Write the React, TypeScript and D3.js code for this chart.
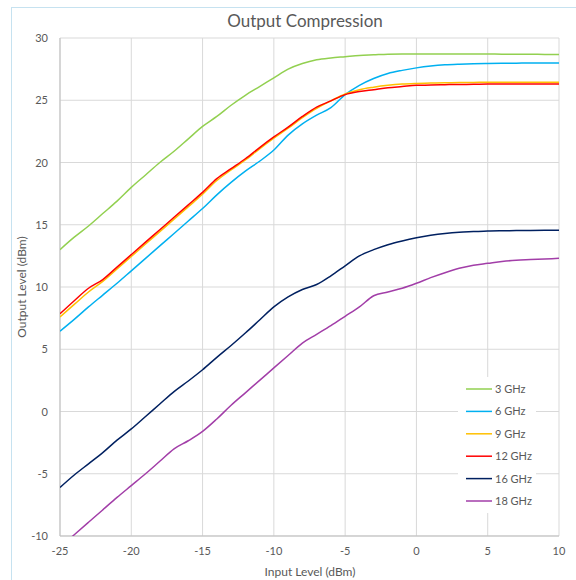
import { line, scaleLinear, curveMonotoneX } from "d3";

const inputLevels = [
  -25, -24, -23, -22, -21, -20, -19, -18, -17, -16, -15, -14, -13, -12, -11, -10, -9, -8, -7, -6, -5, -4, -3, -2, -1, 0,
  1, 2, 3, 4, 5, 6, 7, 8, 9, 10
];

const ghz3 = [
  13.0, 14.0, 14.9, 15.9, 16.9, 18.0, 19.0, 20.0, 20.9, 21.9, 22.9, 23.7, 24.6, 25.4, 26.1, 26.8, 27.5, 27.95, 28.25,
  28.4, 28.5, 28.6, 28.65, 28.7, 28.72, 28.72, 28.72, 28.72, 28.72, 28.72, 28.72, 28.7, 28.7, 28.7, 28.68, 28.68
];
const ghz6 = [
  6.45, 7.4, 8.4, 9.35, 10.3, 11.3, 12.3, 13.3, 14.3, 15.3, 16.3, 17.4, 18.4, 19.3, 20.1, 21.0, 22.2, 23.1, 23.8, 24.4,
  25.45, 26.2, 26.75, 27.15, 27.4, 27.6, 27.75, 27.85, 27.9, 27.93, 27.95, 27.97, 27.98, 28.0, 28.0, 28.0
];
const ghz9 = [
  7.6, 8.6, 9.6, 10.45, 11.45, 12.45, 13.45, 14.45, 15.45, 16.45, 17.45, 18.55, 19.4, 20.2, 21.1, 21.95, 22.75, 23.6,
  24.35, 24.95, 25.5, 25.85, 26.05, 26.2, 26.3, 26.35, 26.38, 26.4, 26.42, 26.43, 26.45, 26.45, 26.45, 26.45, 26.45,
  26.45
];
const ghz12 = [
  7.85, 8.9, 9.9, 10.6, 11.6, 12.6, 13.6, 14.6, 15.6, 16.6, 17.6, 18.7, 19.5, 20.3, 21.2, 22.05, 22.85, 23.7, 24.45,
  24.95, 25.45, 25.7, 25.85, 26.0, 26.1, 26.2, 26.22, 26.25, 26.27, 26.28, 26.3, 26.3, 26.3, 26.3, 26.3, 26.3
];
const ghz16 = [
  -6.1, -5.1, -4.2, -3.3, -2.3, -1.4, -0.4, 0.6, 1.6, 2.45, 3.35, 4.35, 5.3, 6.3, 7.35, 8.4, 9.2, 9.8, 10.2, 10.9, 11.7,
  12.5, 13.0, 13.4, 13.7, 13.95, 14.15, 14.3, 14.4, 14.45, 14.5, 14.52, 14.53, 14.54, 14.55, 14.55
];
const ghz18 = [
  -10.9, -9.9, -8.9, -7.9, -6.9, -5.95, -5.0, -4.0, -3.0, -2.35, -1.6, -0.6, 0.5, 1.5, 2.5, 3.5, 4.5, 5.5, 6.2, 6.9,
  7.65, 8.4, 9.3, 9.6, 9.9, 10.3, 10.75, 11.15, 11.5, 11.75, 11.9, 12.05, 12.15, 12.2, 12.25, 12.3
];

const seriesNames = ["3 GHz", "6 GHz", "9 GHz", "12 GHz", "16 GHz", "18 GHz"];
const seriesValues = [ghz3, ghz6, ghz9, ghz12, ghz16, ghz18];
const seriesColors = ["#92d050", "#00b0f0", "#ffc000", "#ff0000", "#002060", "#a23ea8"];

const xTicks = [-25, -20, -15, -10, -5, 0, 5, 10];
const yTicks = [-10, -5, 0, 5, 10, 15, 20, 25, 30];

const WIDTH = 576;
const HEIGHT = 580;
const PLOT_LEFT = 60;
const PLOT_RIGHT = 559;
const PLOT_TOP = 38;
const PLOT_BOTTOM = 536;
const FONT = "Lato, 'Open Sans', sans-serif";
const TEXT_COLOR = "#595959";

export default function App() {
  const xScale = scaleLinear().domain([-25, 10]).range([PLOT_LEFT, PLOT_RIGHT]);
  const yScale = scaleLinear().domain([-10, 30]).range([PLOT_BOTTOM, PLOT_TOP]);
  const makePath = line<number>()
    .x((_v: number, i: number) => xScale(inputLevels[i]))
    .y((v: number) => yScale(v))
    .curve(curveMonotoneX);

  const legendX = 466;
  const legendY = 389;
  const legendStep = 22.4;

  return (
    <svg
      width={WIDTH}
      height={HEIGHT}
      style={{ position: "absolute", left: 0, top: 0, background: "#fff" }}
      fontFamily={FONT}
    >
      <defs>
        <clipPath id="plot-clip">
          <rect x={PLOT_LEFT} y={PLOT_TOP} width={PLOT_RIGHT - PLOT_LEFT} height={PLOT_BOTTOM - PLOT_TOP} />
        </clipPath>
      </defs>
      <rect x={11.5} y={7.5} width={WIDTH} height={HEIGHT} fill="#fff" stroke="#c6e2f0" />
      <text x={305} y={27} textAnchor="middle" fontSize={17} fill={TEXT_COLOR}>
        Output Compression
      </text>

      {yTicks.map((t) => (
        <g key={`y${t}`}>
          <line x1={PLOT_LEFT} x2={PLOT_RIGHT} y1={yScale(t)} y2={yScale(t)} stroke="#d9d9d9" />
          <text x={48} y={yScale(t) + 4} textAnchor="end" fontSize={11} fill={TEXT_COLOR}>
            {t}
          </text>
        </g>
      ))}
      {xTicks.map((t) => (
        <g key={`x${t}`}>
          <line x1={xScale(t)} x2={xScale(t)} y1={PLOT_TOP} y2={PLOT_BOTTOM} stroke="#d9d9d9" />
          <text x={xScale(t)} y={555} textAnchor="middle" fontSize={11} fill={TEXT_COLOR}>
            {t}
          </text>
        </g>
      ))}
      <line x1={PLOT_LEFT} x2={PLOT_RIGHT} y1={PLOT_BOTTOM} y2={PLOT_BOTTOM} stroke="#bfbfbf" />
      <line x1={PLOT_LEFT} x2={PLOT_LEFT} y1={PLOT_TOP} y2={PLOT_BOTTOM} stroke="#bfbfbf" />

      <g clipPath="url(#plot-clip)">
        {seriesValues.map((values, i) => (
          <path key={seriesNames[i]} d={makePath(values) ?? ""} fill="none" stroke={seriesColors[i]} strokeWidth={1.5} />
        ))}
      </g>

      <rect x={458} y={377} width={78} height={136} fill="#fff" />
      {seriesNames.map((name, i) => (
        <g key={name} transform={`translate(0, ${legendY + i * legendStep})`}>
          <line x1={legendX} x2={legendX + 26} y1={0} y2={0} stroke={seriesColors[i]} strokeWidth={1.5} />
          <text x={legendX + 29} y={4} fontSize={11} fill={TEXT_COLOR}>
            {name}
          </text>
        </g>
      ))}

      <text x={310} y={576} textAnchor="middle" fontSize={12} fill={TEXT_COLOR}>
        Input Level (dBm)
      </text>
      <text transform="translate(26, 287) rotate(-90)" textAnchor="middle" fontSize={12} fill={TEXT_COLOR}>
        Output Level (dBm)
      </text>
    </svg>
  );
}
